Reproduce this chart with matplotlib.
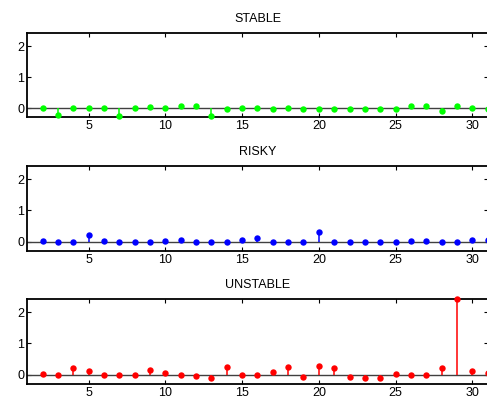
import matplotlib
matplotlib.use("Agg")
import matplotlib.pyplot as plt

x = list(range(2, 32))
stable = [0.0, -0.23, 0.0, 0.0, 0.0, -0.25, 0.0, 0.04, 0.0, 0.05, 0.05, -0.25, -0.03, 0.0,
          0.0, -0.03, 0.01, -0.03, -0.03, -0.02, -0.02, -0.03, -0.03, -0.03, 0.05, 0.05, -0.1, 0.05, 0.0, -0.02]
risky = [0.01, -0.02, -0.02, 0.21, 0.02, -0.02, -0.02, -0.02, 0.01, 0.05, -0.02, -0.02, -0.02, 0.05,
         0.12, -0.02, -0.02, -0.02, 0.32, -0.02, -0.02, -0.02, -0.02, -0.02, 0.02, 0.02, -0.02, -0.02, 0.05, 0.05]
unstable = [0.01, -0.02, 0.2, 0.11, -0.02, -0.02, -0.02, 0.14, 0.04, -0.02, -0.05, -0.1, 0.25, -0.02,
            -0.02, 0.08, 0.25, -0.06, 0.28, 0.22, -0.06, -0.1, -0.1, 0.01, -0.02, -0.02, 0.22, 2.41, 0.11, 0.06]

titles = ["STABLE", "RISKY", "UNSTABLE"]
series = [stable, risky, unstable]
colors = ["#00ff00", "#0000ff", "#ff0000"]
xticks = [5, 10, 15, 20, 25, 30]
yticks = [0, 1, 2]

plt.rcParams['font.family'] = ['Liberation Sans', 'DejaVu Sans']
fig = plt.figure(figsize=(4.87, 3.99), dpi=100)

W, H = 487.0, 399.0
boxes = [(33.3, 117.3), (166.0, 251.0), (299.0, 384.0)]
left_px, right_px = 27.3, 487.6

for (top, bot), title, vals, col in zip(boxes, titles, series, colors):
    ax = fig.add_axes([left_px / W, 1 - bot / H, (right_px - left_px) / W, (bot - top) / H])
    ml, sl, bl = ax.stem(x, vals, linefmt='-', markerfmt='o', basefmt='-')
    sl.set_color(col)
    sl.set_linewidth(1.1)
    sl.set_zorder(2.5)
    plt.setp(ml, color=col, markersize=4.6, markeredgewidth=0, clip_on=False, zorder=3)
    plt.setp(bl, color='#404040', linewidth=1.0, zorder=2)
    bl.set_xdata([0, 40])
    ax.set_xlim(1, 31)
    ax.set_ylim(-0.3, 2.42)
    ax.set_xticks(xticks)
    ax.set_yticks(yticks)
    ax.tick_params(direction='in', top=True, right=True, length=3, width=0.8,
                   labelsize=9, pad=2)
    for s in ax.spines.values():
        s.set_linewidth(1.3)
    ax.set_title(title, fontsize=9, pad=8)

fig.savefig("out.png", dpi=100)
